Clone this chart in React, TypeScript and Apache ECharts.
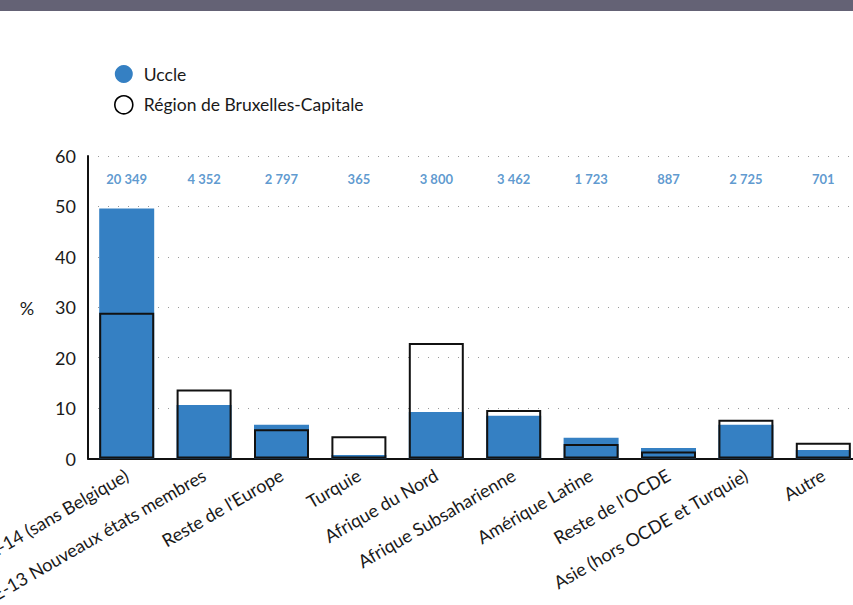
import React, { useEffect, useRef } from "react";
import * as echarts from "echarts";

const categories = [
  "UE-14 (sans Belgique)",
  "UE-13 Nouveaux états membres",
  "Reste de l'Europe",
  "Turquie",
  "Afrique du Nord",
  "Afrique Subsaharienne",
  "Amérique Latine",
  "Reste de l'OCDE",
  "Asie (hors OCDE et Turquie)",
  "Autre",
];
const uccle = [49.6, 10.6, 6.7, 0.7, 9.2, 8.5, 4.1, 2.1, 6.7, 1.7];
const region = [28.9, 13.7, 5.8, 4.4, 22.9, 9.6, 2.9, 1.4, 7.7, 3.1];
const counts = [20349, 4352, 2797, 365, 3800, 3462, 1723, 887, 2725, 701];
const yTicks = [0, 10, 20, 30, 40, 50, 60];

const BLUE = "#3580C3";
const FONT = "Lato, 'Noto Sans', sans-serif";
const LABEL_Y = 55.4;

function fmt(n: number): string {
  return String(n).replace(/\B(?=(\d{3})+(?!\d))/g, " ");
}

export default function App() {
  const ref = useRef<HTMLDivElement>(null);
  useEffect(() => {
    if (!ref.current) return;
    const chart = echarts.init(ref.current, undefined, { renderer: "svg" });
    chart.setOption({
      animation: false,
      backgroundColor: "#ffffff",
      textStyle: { fontFamily: FONT },
      graphic: [
        {
          type: "rect",
          shape: { x: 0, y: 0, width: 853, height: 11 },
          style: { fill: "#646275" },
          z: 10,
        },
        {
          type: "text",
          x: 27,
          y: 308,
          style: {
            text: "%",
            fontSize: 18,
            fontFamily: FONT,
            fill: "#1a1a1a",
            align: "center",
            verticalAlign: "middle",
          },
        },
      ],
      legend: {
        left: 114,
        top: 65,
        orient: "vertical",
        itemWidth: 30,
        itemHeight: 18,
        itemGap: 12,
        padding: 0,
        textStyle: { fontSize: 17.5, lineHeight: 18, color: "#1a1a1a", fontFamily: FONT },
        data: [
          { name: "Uccle", icon: "circle", itemStyle: { color: BLUE, borderWidth: 0 } },
          {
            name: "Région de Bruxelles-Capitale",
            icon: "circle",
            itemStyle: { color: "#ffffff", borderColor: "#000000", borderWidth: 1.6 },
          },
        ],
      },
      grid: {
        left: 88,
        right: -9,
        top: 156,
        bottom: 146.5,
        containLabel: false,
        outerBoundsMode: "none",
      },
      xAxis: {
        type: "category",
        data: categories,
        axisLine: { show: true, lineStyle: { color: "#111", width: 2 } },
        axisTick: { show: false },
        axisLabel: {
          interval: 0,
          rotate: 30,
          margin: 15,
          fontSize: 18,
          color: "#1a1a1a",
          fontFamily: FONT,
        },
      },
      yAxis: {
        type: "value",
        min: yTicks[0],
        max: yTicks[yTicks.length - 1],
        interval: 10,
        axisLine: { show: true, lineStyle: { color: "#111", width: 2 } },
        axisTick: { show: false },
        axisLabel: { fontSize: 18, color: "#1a1a1a", margin: 12, fontFamily: FONT },
        splitLine: {
          show: true,
          lineStyle: { color: "#9a9a9a", width: 1, type: [1, 9] },
        },
      },
      series: [
        {
          name: "Uccle",
          type: "bar",
          data: uccle,
          barWidth: 55,
          barGap: "-100%",
          itemStyle: { color: BLUE },
          z: 2,
        },
        {
          name: "Région de Bruxelles-Capitale",
          type: "bar",
          data: region,
          barWidth: 55,
          barGap: "-100%",
          itemStyle: { color: "rgba(0,0,0,0)", borderColor: "#111", borderWidth: 2 },
          z: 3,
        },
        {
          name: "counts",
          type: "scatter",
          data: counts.map(() => LABEL_Y),
          symbolSize: 0,
          silent: true,
          label: {
            show: true,
            position: "inside",
            formatter: (p: any) => fmt(counts[p.dataIndex]),
            fontSize: 13,
            fontWeight: "bold",
            color: BLUE,
            fontFamily: FONT,
          },
        },
      ],
    });
    return () => chart.dispose();
  }, []);
  return (
    <div
      ref={ref}
      style={{ position: "fixed", left: 0, top: 0, width: 853, height: 605 }}
    />
  );
}
